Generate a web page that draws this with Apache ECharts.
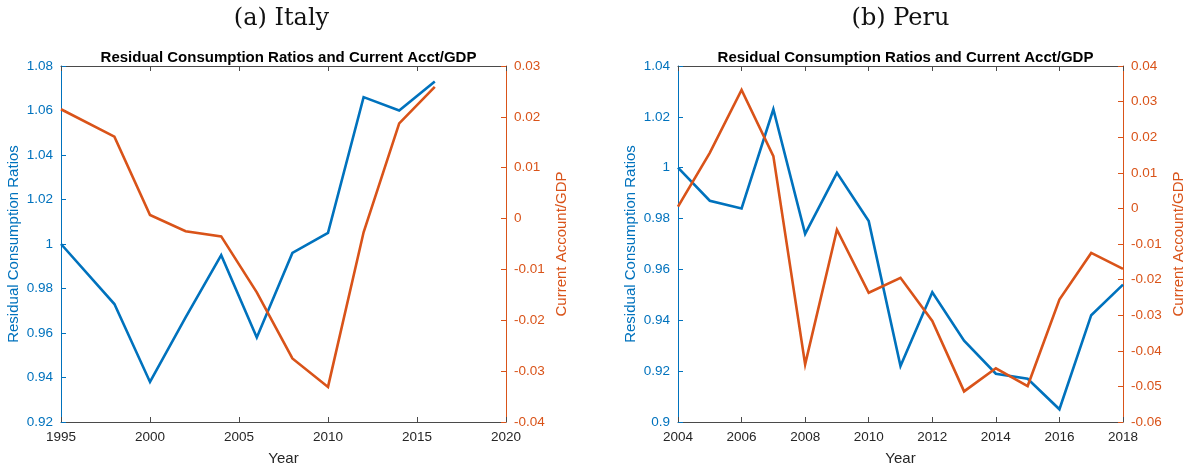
<!DOCTYPE html>
<html>
<head>
<meta charset="utf-8">
<script src="https://cdn.jsdelivr.net/npm/echarts@6/dist/echarts.min.js"></script>
<style>
  html, body { margin: 0; padding: 0; background: #fff; }
  #chart { width: 1190px; height: 471px; }
</style>
</head>
<body>
<div id="chart"></div>
<script>
// Italy: residual consumption ratios (left axis) and current account / GDP (right axis)
const italyYears = [1995, 1998, 2000, 2002, 2004, 2006, 2008, 2010, 2012, 2014, 2016];
const italyRatio = [1.000, 0.973, 0.938, 0.967, 0.995, 0.958, 0.996, 1.005, 1.066, 1.060, 1.073];
const italyCA    = [0.0215, 0.0161, 0.0007, -0.0025, -0.0035, -0.0145, -0.0275, -0.0331, -0.0027, 0.0187, 0.0259];

// Peru: same two measures, annual
const peruYears = [2004, 2005, 2006, 2007, 2008, 2009, 2010, 2011, 2012, 2013, 2014, 2015, 2016, 2017, 2018];
const peruRatio = [1.000, 0.987, 0.984, 1.023, 0.974, 0.998, 0.979, 0.922, 0.951, 0.932, 0.919, 0.917, 0.905, 0.942, 0.954];
const peruCA    = [0.0005, 0.0156, 0.0333, 0.0147, -0.0438, -0.0060, -0.0237, -0.0195, -0.0316, -0.0514, -0.0449, -0.0499, -0.0256, -0.0125, -0.0170];

const panelTitles = ['(a) Italy', '(b) Peru'];
const plotTitle = 'Residual Consumption Ratios and Current Acct/GDP';
const xName = 'Year';
const leftName = 'Residual Consumption Ratios';
const rightName = 'Current Account/GDP';

const BLUE = '#0072BD';
const ORANGE = '#D95319';
const DARK = '#262626';
const FRAME = '#4a4a4a';
const SANS = 'Liberation Sans, Arial, Helvetica, sans-serif';
const TICK_FS = 13.5;
const NAME_FS = 15;

const pairs = (xs, ys) => xs.map((x, i) => [x, ys[i]]);
const num = v => String(+v.toFixed(3));

const grids = [
  { left: 61, top: 66, width: 445, height: 357 },
  { left: 678, top: 66, width: 445, height: 357 }
];

const xRanges = [
  { min: 1995, max: 2020, interval: 5 },
  { min: 2004, max: 2018, interval: 2 }
];
const yLeft = [
  { min: 0.92, max: 1.08, interval: 0.02 },
  { min: 0.90, max: 1.04, interval: 0.02 }
];
const yRight = [
  { min: -0.04, max: 0.03, interval: 0.01 },
  { min: -0.06, max: 0.04, interval: 0.01 }
];

const xAxis = [];
const yAxis = [];
const series = [];
const title = [];

[0, 1].forEach(g => {
  const cx = grids[g].left + grids[g].width / 2;
  title.push({
    text: panelTitles[g], left: cx + (g === 0 ? -7 : -5), top: 2, textAlign: 'center',
    textStyle: { fontFamily: 'DejaVu Serif, serif', fontWeight: 'normal', fontSize: 24, color: '#111' }
  });
  title.push({
    text: plotTitle, left: cx, top: 45, textAlign: 'center',
    textStyle: { fontFamily: SANS, fontWeight: 'bold', fontSize: 15, color: '#000' }
  });

  // bottom axis with labels
  xAxis.push({
    type: 'value', gridIndex: g, position: 'bottom', ...xRanges[g],
    name: xName, nameLocation: 'middle', nameGap: 29,
    nameTextStyle: { fontFamily: SANS, fontSize: NAME_FS, color: DARK },
    axisLine: { show: true, onZero: false, lineStyle: { color: FRAME, width: 1 } },
    axisTick: { show: true, inside: true, length: 5, lineStyle: { color: FRAME } },
    axisLabel: { fontFamily: SANS, fontSize: TICK_FS, color: DARK, margin: 8, formatter: v => String(v) },
    splitLine: { show: false }
  });
  // top frame edge with inward ticks
  xAxis.push({
    type: 'value', gridIndex: g, position: 'top', ...xRanges[g],
    axisLine: { show: true, onZero: false, lineStyle: { color: FRAME, width: 1 } },
    axisTick: { show: true, inside: true, length: 5, lineStyle: { color: FRAME } },
    axisLabel: { show: false },
    splitLine: { show: false }
  });

  yAxis.push({
    type: 'value', gridIndex: g, position: 'left', ...yLeft[g],
    name: leftName, nameLocation: 'middle', nameGap: 40, nameRotate: 90,
    nameTextStyle: { fontFamily: SANS, fontSize: NAME_FS, color: BLUE },
    axisLine: { show: true, onZero: false, lineStyle: { color: BLUE, width: 1 } },
    axisTick: { show: true, inside: true, length: 5, lineStyle: { color: BLUE } },
    axisLabel: { fontFamily: SANS, fontSize: TICK_FS, color: BLUE, margin: 8, formatter: num },
    splitLine: { show: false }
  });
  yAxis.push({
    type: 'value', gridIndex: g, position: 'right', ...yRight[g],
    name: rightName, nameLocation: 'middle', nameGap: 48, nameRotate: 90,
    nameTextStyle: { fontFamily: SANS, fontSize: NAME_FS, color: ORANGE },
    axisLine: { show: true, onZero: false, lineStyle: { color: ORANGE, width: 1 } },
    axisTick: { show: true, inside: true, length: 5, lineStyle: { color: ORANGE } },
    axisLabel: { fontFamily: SANS, fontSize: TICK_FS, color: ORANGE, margin: 8, formatter: num },
    splitLine: { show: false }
  });
});

const sets = [
  [italyYears, italyRatio, italyCA],
  [peruYears, peruRatio, peruCA]
];
sets.forEach(([years, ratio, ca], g) => {
  series.push({
    type: 'line', xAxisIndex: g * 2, yAxisIndex: g * 2,
    data: pairs(years, ratio), showSymbol: false, silent: true,
    lineStyle: { color: BLUE, width: 2.6, join: 'miter' }, animation: false
  });
  series.push({
    type: 'line', xAxisIndex: g * 2, yAxisIndex: g * 2 + 1,
    data: pairs(years, ca), showSymbol: false, silent: true,
    lineStyle: { color: ORANGE, width: 2.6, join: 'miter' }, animation: false
  });
});

const chart = echarts.init(document.getElementById('chart'), null, { renderer: 'canvas' });
chart.setOption({
  backgroundColor: '#fff',
  animation: false,
  title, grid: grids, xAxis, yAxis, series
});
</script>
</body>
</html>
